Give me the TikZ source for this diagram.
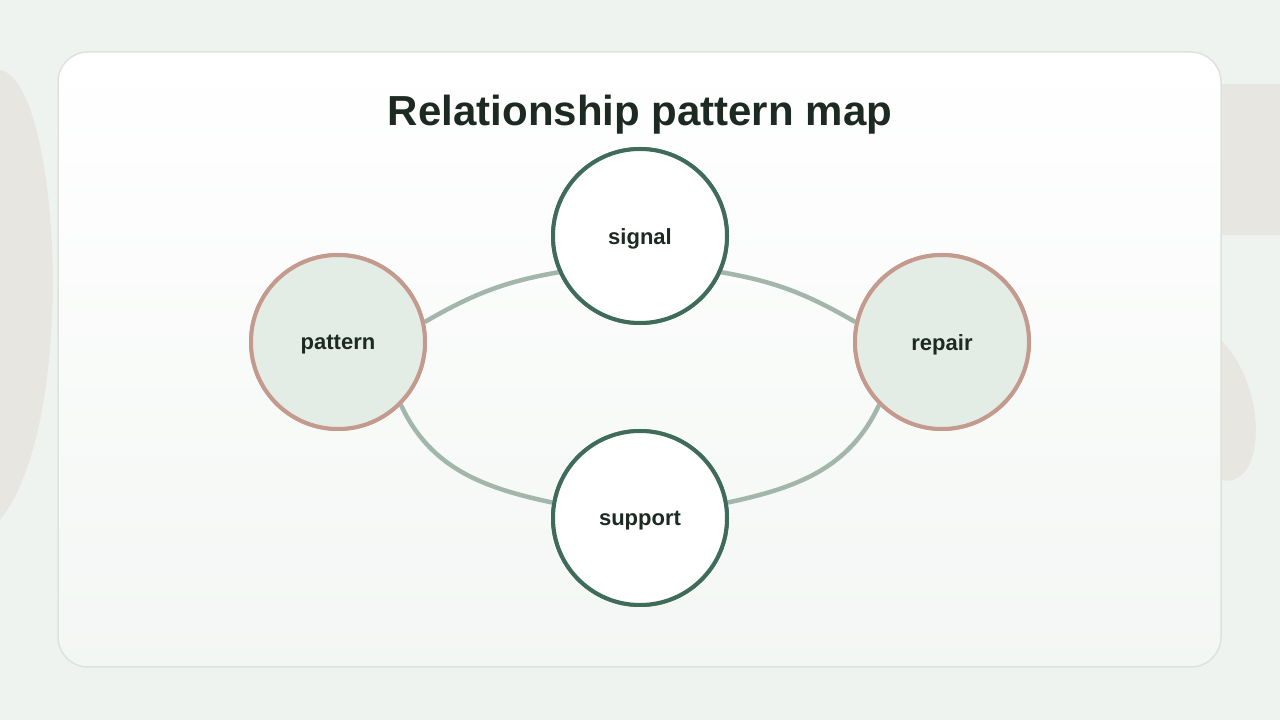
\documentclass[tikz,border=0pt]{standalone}
\usepackage{fontspec}
\setmainfont{Liberation Sans}
\usetikzlibrary{positioning}
\definecolor{bgcol}{HTML}{EEF3EF}
\definecolor{blob}{HTML}{E8E6E1}
\definecolor{cardline}{HTML}{DCE3DE}
\definecolor{darkgreen}{HTML}{3F6B5A}
\definecolor{rose}{HTML}{C49A8E}
\definecolor{palegreen}{HTML}{E3EDE6}
\definecolor{linkcol}{HTML}{A3B6AC}
\definecolor{inkcol}{HTML}{1C2A23}
\tikzstyle{hub}=[draw=darkgreen,line width=4pt,circle,fill=white,minimum size=174pt,
  inner sep=0pt]
\tikzstyle{side}=[hub,draw=rose,fill=palegreen]
\tikzstyle{tag}=[text=inkcol,font=\fontsize{22}{24}\selectfont\bfseries,yshift=-3pt]
\tikzstyle{link}=[draw=linkcol,line width=4.5pt]

\begin{document}
\begin{tikzpicture}[x=1pt,y=1pt]
  \useasboundingbox (0,0) rectangle (1280,720);
  \fill[bgcol] (0,0) rectangle (1280,720);
  % soft shapes behind the card
  \fill[blob] (0,650) .. controls (60,640) and (80,300) .. (0,200) -- cycle;
  \fill[blob] (1221,636) rectangle (1280,485);
  \fill[blob] (1221,380) .. controls (1270,330) and (1265,230) .. (1221,240) -- cycle;
  \draw[cardline,line width=1.5pt,top color=white,bottom color=bgcol!70,rounded corners=30pt]
    (58,668) rectangle (1221,53);
  \node[text=inkcol,font=\fontsize{42}{48}\selectfont\bfseries] (title) at (640,605)
    {Relationship pattern map};

  \node[hub] (signal) at (640,484) {};
  \node[side] (pattern) at (338,378) {};
  \node[side] (repair) at (942,378) {};
  \node[hub] (support) at (640,202) {};

  \draw[link] (pattern.13) to[out=30,in=190] (signal.204);
  \draw[link] (signal.-24) to[out=-10,in=150] (repair.167);
  \draw[link] (pattern.-45) to[out=-65,in=168] (support.170);
  \draw[link] (support.10) to[out=12,in=-115] (repair.-135);

  % circles again on top of the links
  \node[hub] at (signal) {};
  \node[side] at (pattern) {};
  \node[side] at (repair) {};
  \node[hub] at (support) {};
  \node[tag] (signal-t) at (signal) {signal};
  \node[tag] (pattern-t) at (pattern) {pattern};
  \node[tag] (repair-t) at (repair) {repair};
  \node[tag] (support-t) at (support) {support};
\end{tikzpicture}
\end{document}
